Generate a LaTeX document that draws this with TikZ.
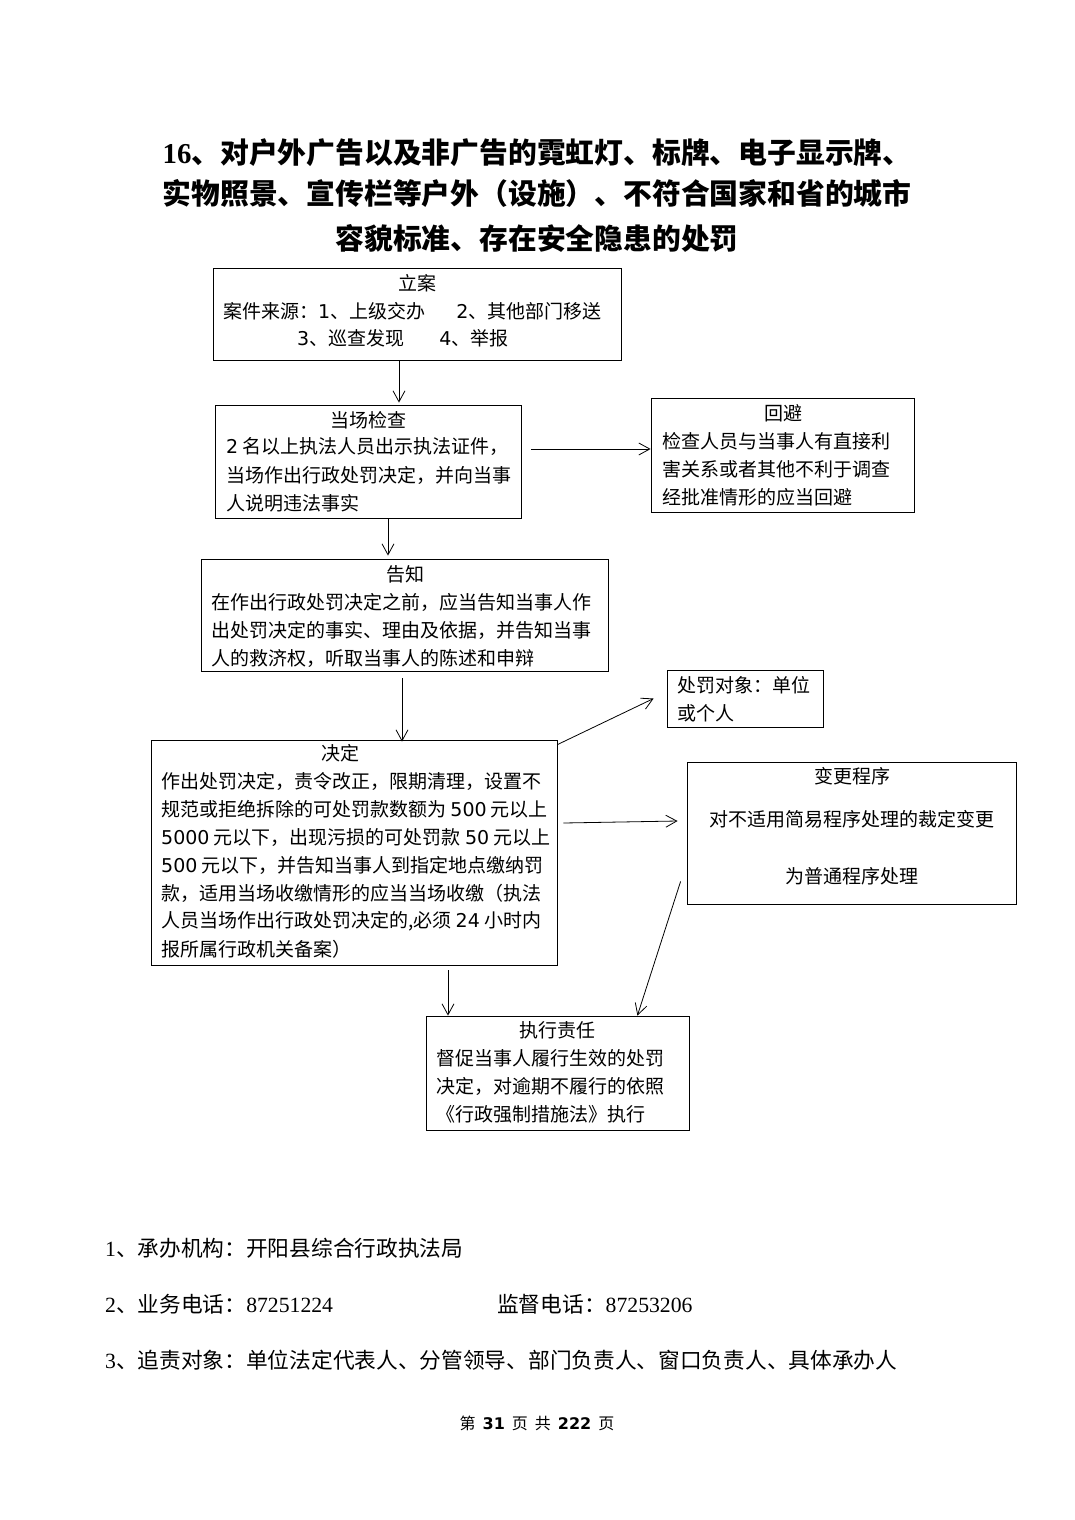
\documentclass[tikz,border=0pt]{standalone}
\usepackage{fontspec}
\setmainfont{Noto Sans CJK SC}
\newfontfamily\dv{DejaVu Sans}
\newfontfamily\lser{Liberation Serif}
\usetikzlibrary{arrows.meta}
\newcommand\bx{\fontsize{19}{22}\selectfont}
\newcommand\bt{\fontsize{21.7}{24}\selectfont}
\newcommand\tl{\fontsize{28.8}{32}\selectfont\bfseries}
\newcommand\ft{\fontsize{16}{18}\selectfont}
\begin{document}
\begin{tikzpicture}[x=1pt,y=-1pt,
  box/.style={draw,line width=0.8pt,inner sep=0},
  txt/.style={inner sep=0,anchor=west,font=\bx},
  hd/.style={inner sep=0,font=\bx},
  btxt/.style={inner sep=0,anchor=west,font=\bt},
  ttl/.style={inner sep=0,font=\tl},
  arr/.style={line width=0.8pt,-{Straight Barb[length=11pt,width=12pt]}}]
\useasboundingbox[fill=white] (0,0) rectangle (1074,1520);

% title
\node[ttl] (t1) at (537,153) {{\lser\bfseries 16}、对户外广告以及非广告的霓虹灯、标牌、电子显示牌、};
\node[ttl] (t2) at (537,193) {实物照景、宣传栏等户外（设施）、不符合国家和省的城市};
\node[ttl] (t3) at (537,238) {容貌标准、存在安全隐患的处罚};

% 立案
\node[box,minimum width=408pt,minimum height=92pt] (lian) at (417,314) {};
\node[hd] (lianH) at (417,283) {立案};
\node[txt] (lian1) at (223,311) {案件来源：{\dv 1}、上级交办\hspace{31pt}{\dv 2}、其他部门移送};
\node[txt] (lian2) at (297,338) {{\dv 3}、巡查发现\hspace{35pt}{\dv 4}、举报};

% 当场检查
\node[box,minimum width=306pt,minimum height=113pt] (jc) at (368,461.5) {};
\node[hd] (jcH) at (368,420) {当场检查};
\node[txt] (jc1) at (226,447) {{\dv 2} 名以上执法人员出示执法证件，};
\node[txt] (jc2) at (226,475) {当场作出行政处罚决定，并向当事};
\node[txt] (jc3) at (226,503) {人说明违法事实};

% 回避
\node[box,minimum width=263pt,minimum height=114pt] (hb) at (782.5,455) {};
\node[hd] (hbH) at (783,413) {回避};
\node[txt] (hb1) at (662,441) {检查人员与当事人有直接利};
\node[txt] (hb2) at (662,469) {害关系或者其他不利于调查};
\node[txt] (hb3) at (662,497) {经批准情形的应当回避};

% 告知
\node[box,minimum width=407pt,minimum height=112pt] (gz) at (404.5,615) {};
\node[hd] (gzH) at (405,574) {告知};
\node[txt] (gz1) at (211,602) {在作出行政处罚决定之前，应当告知当事人作};
\node[txt] (gz2) at (211,630) {出处罚决定的事实、理由及依据，并告知当事};
\node[txt] (gz3) at (211,658) {人的救济权，听取当事人的陈述和申辩};

% 处罚对象
\node[box,minimum width=156pt,minimum height=57pt] (dx) at (745,698.5) {};
\node[txt] (dx1) at (677,685) {处罚对象：单位};
\node[txt] (dx2) at (677,713) {或个人};

% 决定
\node[box,minimum width=406pt,minimum height=225pt] (jd) at (354,852.5) {};
\node[hd] (jdH) at (340,753) {决定};
\node[txt] (jd1) at (161,781) {作出处罚决定，责令改正，限期清理，设置不};
\node[txt] (jd2) at (161,809) {规范或拒绝拆除的可处罚款数额为 {\dv 500} 元以上};
\node[txt] (jd3) at (161,837) {{\dv 5000} 元以下，出现污损的可处罚款 {\dv 50} 元以上};
\node[txt] (jd4) at (161,865) {{\dv 500} 元以下，并告知当事人到指定地点缴纳罚};
\node[txt] (jd5) at (161,893) {款，适用当场收缴情形的应当当场收缴（执法};
\node[txt] (jd6) at (161,921) {人员当场作出行政处罚决定的,必须 {\dv 24} 小时内};
\node[txt] (jd7) at (161,949) {报所属行政机关备案）};

% 变更程序
\node[box,minimum width=329pt,minimum height=142pt] (bg) at (851.5,833) {};
\node[hd] (bgH) at (852,776) {变更程序};
\node[hd] (bg1) at (852,819) {对不适用简易程序处理的裁定变更};
\node[hd] (bg2) at (852,876) {为普通程序处理};

% 执行责任
\node[box,minimum width=263pt,minimum height=114pt] (zx) at (557.5,1073) {};
\node[hd] (zxH) at (557,1030) {执行责任};
\node[txt] (zx1) at (436,1058) {督促当事人履行生效的处罚};
\node[txt] (zx2) at (436,1086) {决定，对逾期不履行的依照};
\node[txt] (zx3) at (436,1114) {《行政强制措施法》执行};

% connectors
\draw[arr] ([xshift=-18pt]lian.south) -- ([xshift=-18pt,yshift=2pt]lian.south |- jc.north);
\draw[arr] ([xshift=20pt]jc.south) -- ([xshift=20pt,yshift=3pt]jc.south |- gz.north);
\draw[arr] ([xshift=10pt,yshift=12.5pt]jc.east) -- ([yshift=12.5pt]jc.east -| hb.west);
\draw[arr] ([xshift=-2.5pt,yshift=-7pt]gz.south) -- ([xshift=-2.5pt,yshift=-2pt]gz.south |- jd.north);
\draw[arr] ([yshift=-5pt]jd.north east) -- ([xshift=-13pt]dx.west);
\draw[arr] ([xshift=6pt,yshift=29.5pt]jd.east) -- ([xshift=-9pt,yshift=12pt]bg.west);
\draw[arr] ([xshift=94pt,yshift=-5pt]jd.south) -- ([xshift=94pt]jd.south |- zx.north);
\draw[arr] ([xshift=-6pt,yshift=23pt]bg.south west) -- ([xshift=-52pt]zx.north east);

% bottom notes
\node[btxt] (n1) at (105,1248) {{\lser 1}、承办机构：开阳县综合行政执法局};
\node[btxt] (n2) at (105,1304) {{\lser 2}、业务电话：{\lser 87251224}};
\node[btxt] (n2b) at (497,1304) {监督电话：{\lser 87253206}};
\node[btxt] (n3) at (105,1360) {{\lser 3}、追责对象：单位法定代表人、分管领导、部门负责人、窗口负责人、具体承办人};
\node[inner sep=0,font=\ft] (pg) at (537,1423) {第\hspace{7pt}{\dv\bfseries 31}\hspace{7pt}页\hspace{7pt}共\hspace{7pt}{\dv\bfseries 222}\hspace{7pt}页};
\end{tikzpicture}
\end{document}
